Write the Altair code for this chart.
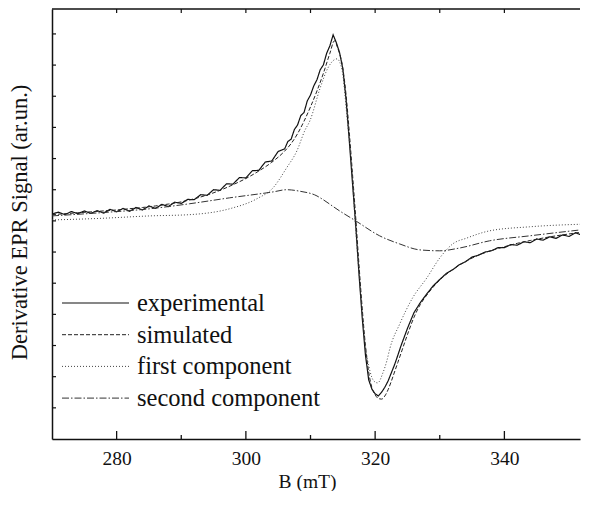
import altair as alt
import pandas as pd

# ---------------- data ----------------
B_EXP = [270, 271, 272, 273, 274, 275, 276, 277, 278, 279, 280, 281, 282, 283, 284, 285,
         286, 287, 288, 289, 290, 291, 292, 293, 294, 295, 296, 297, 298, 299, 300, 301,
         302, 303, 304, 305, 306, 306.5, 307, 307.5, 308, 308.5, 309, 309.5, 310, 310.5,
         311, 311.5, 312, 312.5, 313, 313.5, 314, 314.5, 315, 315.5, 316, 316.5, 317,
         317.5, 318, 318.5, 319, 319.5, 320, 320.5, 321, 321.5, 322, 322.5, 323, 323.5,
         324, 325, 326, 327, 328, 329, 330, 331, 332, 333, 334, 335, 336, 337, 338, 339,
         340, 341, 342, 343, 344, 345, 346, 347, 348, 349, 350, 351, 352, 353]
Y_EXP = [7.22, 7.28, 7.20, 7.30, 7.23, 7.32, 7.24, 7.33, 7.25, 7.37, 7.29, 7.40, 7.31, 7.43,
         7.35, 7.48, 7.40, 7.53, 7.46, 7.60, 7.56, 7.69, 7.68, 7.84, 7.82, 8.00, 7.98, 8.19,
         8.18, 8.39, 8.38, 8.61, 8.62, 8.89, 8.92, 9.23, 9.31, 9.55, 9.62, 9.93, 10.08, 10.38,
         10.48, 10.85, 11.04, 11.33, 11.53, 11.85, 12.01, 12.38, 12.62, 12.97, 12.72, 12.40,
         11.88, 10.90, 9.57, 8.20, 6.84, 5.30, 3.89, 2.70, 1.90, 1.60, 1.45, 1.38, 1.50, 1.66,
         1.86, 2.12, 2.38, 2.68, 2.99, 3.55, 4.05, 4.38, 4.66, 4.92, 5.12, 5.31, 5.43, 5.59,
         5.69, 5.84, 5.90, 6.00, 6.04, 6.14, 6.14, 6.24, 6.22, 6.33, 6.30, 6.42, 6.38, 6.49,
         6.44, 6.55, 6.50, 6.62, 6.54, 6.59]

B_SIM = [270, 272, 274, 276, 278, 280, 282, 284, 286, 288, 290, 292, 294, 296, 298, 300,
         302, 304, 306, 307, 308, 309, 310, 311, 312, 313, 313.7, 314.2, 315, 315.5, 316,
         316.5, 317, 317.5, 318, 318.5, 319, 319.5, 320, 320.5, 321, 321.5, 322, 322.5, 323,
         323.5, 324, 325, 326, 327, 328, 329, 330, 332, 334, 336, 338, 340, 342, 344, 346,
         348, 350, 352, 353]
Y_SIM = [7.20, 7.23, 7.26, 7.29, 7.32, 7.35, 7.39, 7.43, 7.48, 7.54, 7.61, 7.71, 7.83, 7.98,
         8.16, 8.36, 8.60, 8.88, 9.24, 9.48, 9.80, 10.20, 10.66, 11.17, 11.74, 12.38, 12.78,
         12.55, 11.90, 11.05, 9.85, 8.50, 7.10, 5.60, 4.20, 3.00, 2.15, 1.65, 1.42, 1.30, 1.28,
         1.38, 1.58, 1.85, 2.15, 2.45, 2.75, 3.35, 3.90, 4.32, 4.62, 4.88, 5.10, 5.44, 5.70,
         5.90, 6.05, 6.17, 6.28, 6.37, 6.45, 6.52, 6.58, 6.64, 6.66]

B_C1 = [270, 277.4, 285.2, 291.3, 297.5, 301.7, 304.2, 306.3, 307.9, 309.1, 309.9, 311.5,
        312.7, 314.1, 314.9, 315.6, 316.4, 316.9, 317.6, 318.4, 319.2, 319.8, 320.4, 321.2,
        321.8, 322.3, 323.8, 325.8, 328.0, 330.0, 332.0, 334.2, 337.7, 343.9, 353.0]
Y_C1 = [7.03, 7.08, 7.16, 7.20, 7.39, 7.71, 8.06, 8.70, 9.25, 9.89, 10.21, 11.27, 11.91,
        12.20, 11.82, 10.44, 8.61, 7.00, 5.07, 3.15, 2.18, 1.86, 1.80, 2.12, 2.50, 2.92,
        3.69, 4.53, 5.17, 5.81, 6.26, 6.45, 6.68, 6.81, 6.90]

B_C2 = [270, 277.4, 285.2, 291.3, 297.5, 304.2, 306.3, 308.4, 311.0, 311.5, 314.5, 317.0,
        320.7, 323.8, 326.9, 330.0, 333.1, 337.7, 343.9, 353.0]
Y_C2 = [7.16, 7.26, 7.39, 7.55, 7.74, 7.93, 8.00, 7.95, 7.80, 7.74, 7.32, 7.00, 6.52, 6.26,
        6.07, 6.04, 6.13, 6.36, 6.52, 6.74]

LEGEND_LABELS = ["experimental", "simulated", "first component", "second component"]
X_TICKS = [280, 300, 320, 340]
X_MINOR = [290, 310, 330]
Y_MINOR = list(range(1, 14))

# ---------------- layout / style ----------------
W, H = 528, 430
X_DOM = [270, 351.7]
Y_DOM = [0, 13.8]
FONT = "Liberation Serif"
INK = "#111111"

STYLES = [
    dict(dash=[1, 0], width=1.2, color="#111111", interp="linear"),
    dict(dash=[4, 2], width=1.0, color="#222222", interp="monotone"),
    dict(dash=[1, 2], width=1.0, color="#444444", interp="monotone"),
    dict(dash=[7, 2, 1.5, 2], width=1.0, color="#333333", interp="monotone"),
]
SERIES = [(B_EXP, Y_EXP), (B_SIM, Y_SIM), (B_C1, Y_C1), (B_C2, Y_C2)]

xs = alt.Scale(domain=X_DOM, nice=False, zero=False)
ys = alt.Scale(domain=Y_DOM, nice=False, zero=False)

XAX = alt.Axis(title="B (mT)", values=X_TICKS, format="d", ticks=False, grid=False,
               domainColor=INK, domainWidth=1.5,
               labelFont=FONT, labelFontSize=19.5, labelColor=INK, labelPadding=10,
               titleFont=FONT, titleFontSize=19.5, titleFontWeight="normal", titleColor=INK,
               titleX=255, titleY=42, titleBaseline="middle")
YAX = alt.Axis(title="Derivative EPR Signal (ar.un.)", labels=False, ticks=False, grid=False,
               domainColor=INK, domainWidth=1.5,
               titleFont=FONT, titleFontSize=22.5, titleFontWeight="normal", titleColor=INK,
               titleX=-33, titleY=213, titleBaseline="middle")

layers = []
for (bx, by), st in zip(SERIES, STYLES):
    df = pd.DataFrame({"B": bx, "v": by})
    layers.append(
        alt.Chart(df).mark_line(strokeDash=st["dash"], strokeWidth=st["width"],
                                color=st["color"], interpolate=st["interp"], clip=True)
        .encode(x=alt.X("B:Q", scale=xs, axis=XAX), y=alt.Y("v:Q", scale=ys, axis=YAX))
    )

# frame top line
layers.append(alt.Chart(pd.DataFrame({"a": [0]})).mark_rule(color=INK, strokeWidth=1.5)
              .encode(x=alt.value(0), x2=alt.value(W), y=alt.value(0)))

# inward ticks
maj = pd.DataFrame({"B": X_TICKS})
mnr = pd.DataFrame({"B": X_MINOR})
layers.append(alt.Chart(maj).mark_rule(color=INK, strokeWidth=1.3)
              .encode(x=alt.X("B:Q", scale=xs, axis=XAX), y=alt.value(H), y2=alt.value(H - 8)))
layers.append(alt.Chart(mnr).mark_rule(color=INK, strokeWidth=1.3)
              .encode(x=alt.X("B:Q", scale=xs, axis=XAX), y=alt.value(H), y2=alt.value(H - 4)))
layers.append(alt.Chart(pd.concat([maj, mnr])).mark_rule(color=INK, strokeWidth=1.2)
              .encode(x=alt.X("B:Q", scale=xs, axis=XAX), y=alt.value(0), y2=alt.value(4)))
layers.append(alt.Chart(pd.DataFrame({"v": Y_MINOR})).mark_rule(color=INK, strokeWidth=1.2)
              .encode(y=alt.Y("v:Q", scale=ys, axis=YAX), x=alt.value(0), x2=alt.value(4)))

# legend (drawn manually)
LEG_Y0, LEG_DY = 294, 31.7
for i, (lab, st) in enumerate(zip(LEGEND_LABELS, STYLES)):
    yy = LEG_Y0 + i * LEG_DY
    ld = pd.DataFrame({"label": [lab]})
    layers.append(alt.Chart(ld).mark_rule(strokeDash=st["dash"], strokeWidth=st["width"],
                                          color=st["color"])
                  .encode(x=alt.value(10), x2=alt.value(77), y=alt.value(yy)))
    layers.append(alt.Chart(ld).mark_text(font=FONT, fontSize=24.5, color=INK, align="left",
                                          baseline="middle", dy=1)
                  .encode(x=alt.value(85), y=alt.value(yy), text="label:N"))

chart = (alt.layer(*layers)
         .properties(width=W, height=H, background="white",
                     padding={"left": 0, "top": 0, "right": 0, "bottom": 0})
         .configure_view(stroke=None))

chart.save("out.html", embed_options={"renderer": "svg", "actions": False})
